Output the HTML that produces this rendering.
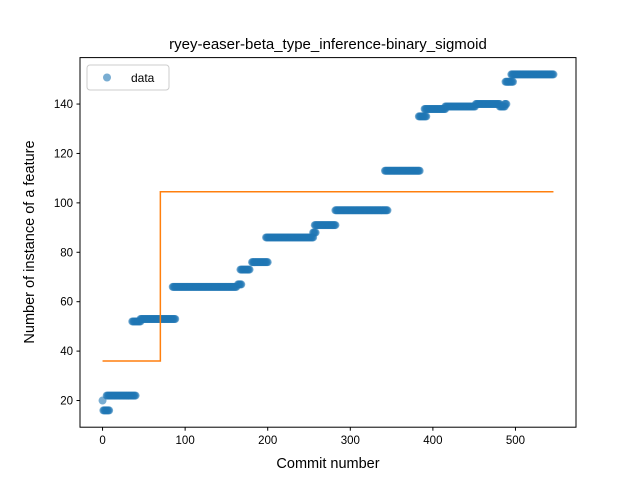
<!DOCTYPE html>
<html><head><meta charset="utf-8"><style>
html,body{margin:0;padding:0;background:#fff;}
svg{display:block;font-family:"Liberation Sans","DejaVu Sans",sans-serif;}
</style></head><body>
<svg id="chart" width="640" height="480" viewBox="0 0 640 480">
<rect width="640" height="480" fill="#fff"/>
<g id="marks"></g>
<rect x="80" y="57.6" width="496" height="369.6" fill="none" stroke="#000" stroke-width="1"/>
<g id="axes"></g>
<text x="328" y="49" text-anchor="middle" font-size="15">ryey-easer-beta_type_inference-binary_sigmoid</text>
<text x="328" y="468" text-anchor="middle" font-size="14.5">Commit number</text>
<text transform="translate(34,242) rotate(-90)" text-anchor="middle" font-size="14.5">Number of instance of a feature</text>
<g>
<rect x="87" y="65" width="82" height="25" rx="3" fill="#fff" stroke="#ccc"/>
<circle cx="107" cy="77.5" r="4" fill="#1f77b4" fill-opacity="0.6"/>
<text x="131" y="82" font-size="12">data</text>
</g>
</svg>
<script>
const segStart = [0, 1, 5, 36, 46, 85, 164, 167, 181, 198, 255, 257, 282, 342, 383, 390, 415, 452, 481, 487, 488, 495];
const segEnd   = [0, 8, 40, 46, 88, 162, 168, 178, 200, 255, 258, 282, 345, 384, 392, 415, 451, 481, 487, 489, 497, 546];
const segValue = [20, 16, 22, 52, 53, 66, 67, 73, 76, 86, 88, 91, 97, 113, 135, 138, 139, 140, 139, 140, 149, 152];
const fitX = [0, 70, 70, 546];
const fitY = [36, 36, 104.5, 104.5];
const xTicks = [0, 100, 200, 300, 400, 500];
const yTicks = [20, 40, 60, 80, 100, 120, 140];

const xMin = -27.3, xMax = 573.3, yMin = 9.2, yMax = 158.8;
const L = 80, R = 576, T = 57.6, B = 427.2;
const sx = v => L + (v - xMin) / (xMax - xMin) * (R - L);
const sy = v => B - (v - yMin) / (yMax - yMin) * (B - T);
const NS = "http://www.w3.org/2000/svg";
const marks = document.getElementById('marks');
const axes = document.getElementById('axes');
function mk(tag, attrs, parent) {
  const e = document.createElementNS(NS, tag);
  for (const k in attrs) e.setAttribute(k, attrs[k]);
  parent.appendChild(e);
  return e;
}
for (let s = 0; s < segStart.length; s++) {
  for (let x = segStart[s]; x <= segEnd[s]; x++) {
    const c = mk('circle', {cx: sx(x), cy: sy(segValue[s]), r: 4, fill: '#1f77b4', 'fill-opacity': 0.6}, marks);
    
    
  }
}
const pts = fitX.map((x, i) => sx(x) + ',' + sy(fitY[i])).join(' ');
const line = mk('polyline', {points: pts, fill: 'none', stroke: '#ff7f0e', 'stroke-width': 1.5}, marks);


xTicks.forEach(v => {
  const x = sx(v);
  const t = mk('line', {x1: x, x2: x, y1: B, y2: B + 3.5, stroke: '#000'}, axes);
  
  
  const l = mk('text', {x: x, y: B + 17, 'text-anchor': 'middle', 'font-size': 11.5}, axes);
  l.textContent = v;
  
  
});
yTicks.forEach(v => {
  const y = sy(v);
  const t = mk('line', {x1: L - 3.5, x2: L, y1: y, y2: y, stroke: '#000'}, axes);
  
  
  const l = mk('text', {x: L - 7, y: y + 4, 'text-anchor': 'end', 'font-size': 11.5}, axes);
  l.textContent = v;
  
  
});
</script>
</body></html>
